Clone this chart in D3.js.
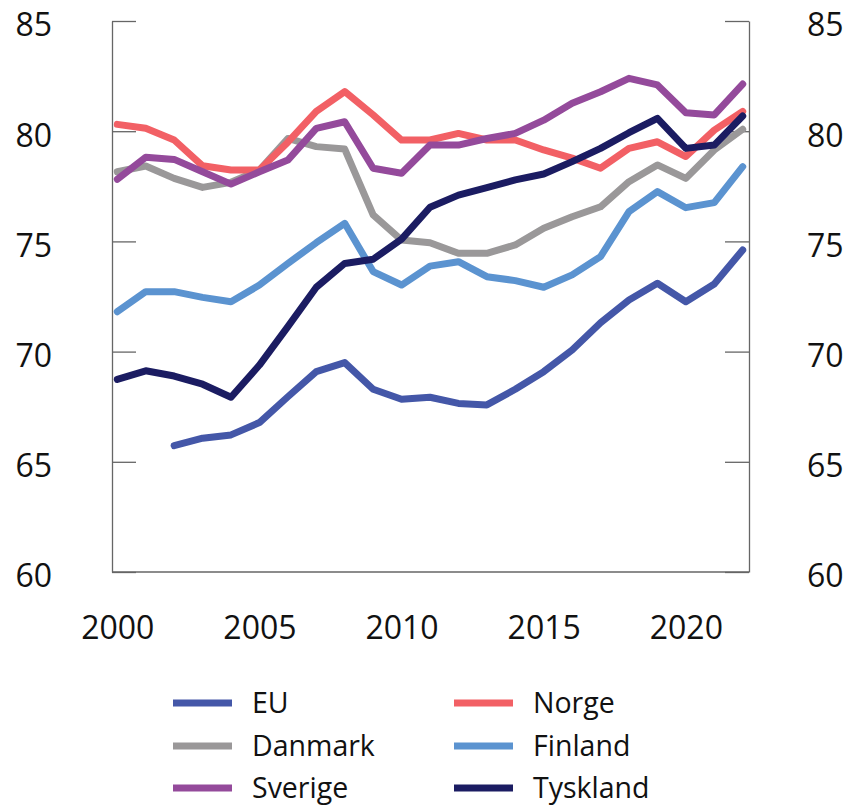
<!DOCTYPE html>
<html>
<head>
<meta charset="utf-8">
<script src="https://cdn.jsdelivr.net/npm/d3@7"></script>
<style>
  body { margin: 0; background: #fff; }
  svg { font-family: "Open Sans", "Noto Sans", sans-serif; }
</style>
</head>
<body>
<script>
const years = d3.range(2000, 2023);
const yTicks = [60, 65, 70, 75, 80, 85];
const xTicks = [2000, 2005, 2010, 2015, 2020];

const eu = [null, null, 65.73, 66.07, 66.22, 66.78, 67.95, 69.09, 69.5, 68.29, 67.84, 67.93, 67.65, 67.58, 68.29, 69.09, 70.07, 71.31, 72.34, 73.1, 72.26, 73.07, 74.61];
const norge = [80.31, 80.13, 79.6, 78.43, 78.24, 78.24, 79.5, 80.9, 81.8, 80.74, 79.6, 79.6, 79.9, 79.6, 79.6, 79.15, 78.78, 78.32, 79.22, 79.52, 78.85, 80.05, 80.9];
const danmark = [78.16, 78.42, 77.86, 77.45, 77.68, 78.24, 79.67, 79.3, 79.19, 76.2, 75.06, 74.94, 74.46, 74.46, 74.84, 75.6, 76.12, 76.57, 77.71, 78.47, 77.86, 79.15, 80.09];
const finland = [71.81, 72.72, 72.72, 72.46, 72.26, 73.02, 74.0, 74.94, 75.82, 73.63, 73.02, 73.88, 74.08, 73.4, 73.22, 72.92, 73.48, 74.31, 76.35, 77.26, 76.53, 76.76, 78.39];
const sverige = [77.82, 78.82, 78.72, 78.16, 77.6, 78.16, 78.69, 80.13, 80.43, 78.32, 78.09, 79.37, 79.37, 79.67, 79.9, 80.5, 81.27, 81.79, 82.4, 82.1, 80.84, 80.74, 82.14];
const tyskland = [68.74, 69.13, 68.89, 68.52, 67.93, 69.39, 71.13, 72.92, 74.0, 74.19, 75.1, 76.55, 77.1, 77.44, 77.79, 78.06, 78.62, 79.22, 79.93, 80.58, 79.22, 79.37, 80.69];

const series = [
  {name: 'EU', values: eu, color: '#4457a8'},
  {name: 'Norge', values: norge, color: '#f26065'},
  {name: 'Danmark', values: danmark, color: '#9a9899'},
  {name: 'Finland', values: finland, color: '#5b93d0'},
  {name: 'Sverige', values: sverige, color: '#944a9b'},
  {name: 'Tyskland', values: tyskland, color: '#1b1c62'}
];
// drawing order (last on top)
const drawOrder = ['Danmark', 'Norge', 'Sverige', 'Finland', 'EU', 'Tyskland'];

const width = 848, height = 806;
const frame = {left: 112, right: 749, top: 21, bottom: 572};

const svg = d3.select('body')
  .append('svg')
  .attr('width', width)
  .attr('height', height);

const xScale = d3.scaleLinear()
  .domain([2000, 2022])
  .range([117.3, 742.7]);

const yScale = d3.scaleLinear()
  .domain([60, 85])
  .range([frame.bottom, frame.top]);

const axisColor = '#666';

const leftAxis = svg.append('g')
  .attr('transform', `translate(${frame.left},0)`)
  .call(d3.axisLeft(yScale).tickValues(yTicks).tickSizeInner(-24).tickSizeOuter(0).tickPadding(60));

const rightAxis = svg.append('g')
  .attr('transform', `translate(${frame.right},0)`)
  .call(d3.axisRight(yScale).tickValues(yTicks).tickSizeInner(-24).tickSizeOuter(0).tickPadding(58));

const bottomAxis = svg.append('g')
  .attr('transform', `translate(0,${frame.bottom})`)
  .call(d3.axisBottom(xScale).tickValues(xTicks).tickFormat(d3.format('d')).tickSize(0).tickPadding(44));

bottomAxis.select('.domain').remove();
svg.append('line')
  .attr('x1', frame.left).attr('x2', frame.right)
  .attr('y1', frame.bottom).attr('y2', frame.bottom)
  .attr('stroke', axisColor)
  .attr('stroke-width', 1.3);

svg.selectAll('.domain, .tick line')
  .attr('stroke', axisColor)
  .attr('stroke-width', 1.3);

svg.selectAll('.tick text')
  .attr('font-size', 32)
  .attr('fill', '#111')
  .attr('font-family', '"Open Sans", "Noto Sans", sans-serif');

leftAxis.selectAll('.tick text').attr('dy', '0.65em').attr('y', -6);
rightAxis.selectAll('.tick text').attr('dy', '0.65em').attr('y', -6);

const line = d3.line()
  .defined(d => d[1] !== null)
  .x(d => xScale(d[0]))
  .y(d => yScale(d[1]));

const lines = svg.append('g')
  .attr('fill', 'none')
  .attr('stroke-width', 7)
  .attr('stroke-linejoin', 'round')
  .attr('stroke-linecap', 'round');

drawOrder.forEach(name => {
  const s = series.find(d => d.name === name);
  lines.append('path')
    .datum(years.map((y, i) => [y, s.values[i]]))
    .attr('stroke', s.color)
    .attr('d', line);
});

// legend, two columns
const legend = svg.append('g')
  .attr('font-size', 28.5)
  .attr('fill', '#111');

const colX = [173, 454];
const rowY = [703, 746, 788];

series.forEach((s, i) => {
  const cx = colX[i % 2];
  const cy = rowY[Math.floor(i / 2)];
  legend.append('line')
    .attr('x1', cx).attr('x2', cx + 59)
    .attr('y1', cy).attr('y2', cy)
    .attr('stroke', s.color)
    .attr('stroke-width', 7);
  legend.append('text')
    .attr('x', cx + 79)
    .attr('y', cy)
    .attr('dy', '0.36em')
    .text(s.name);
});
</script>
</body>
</html>
